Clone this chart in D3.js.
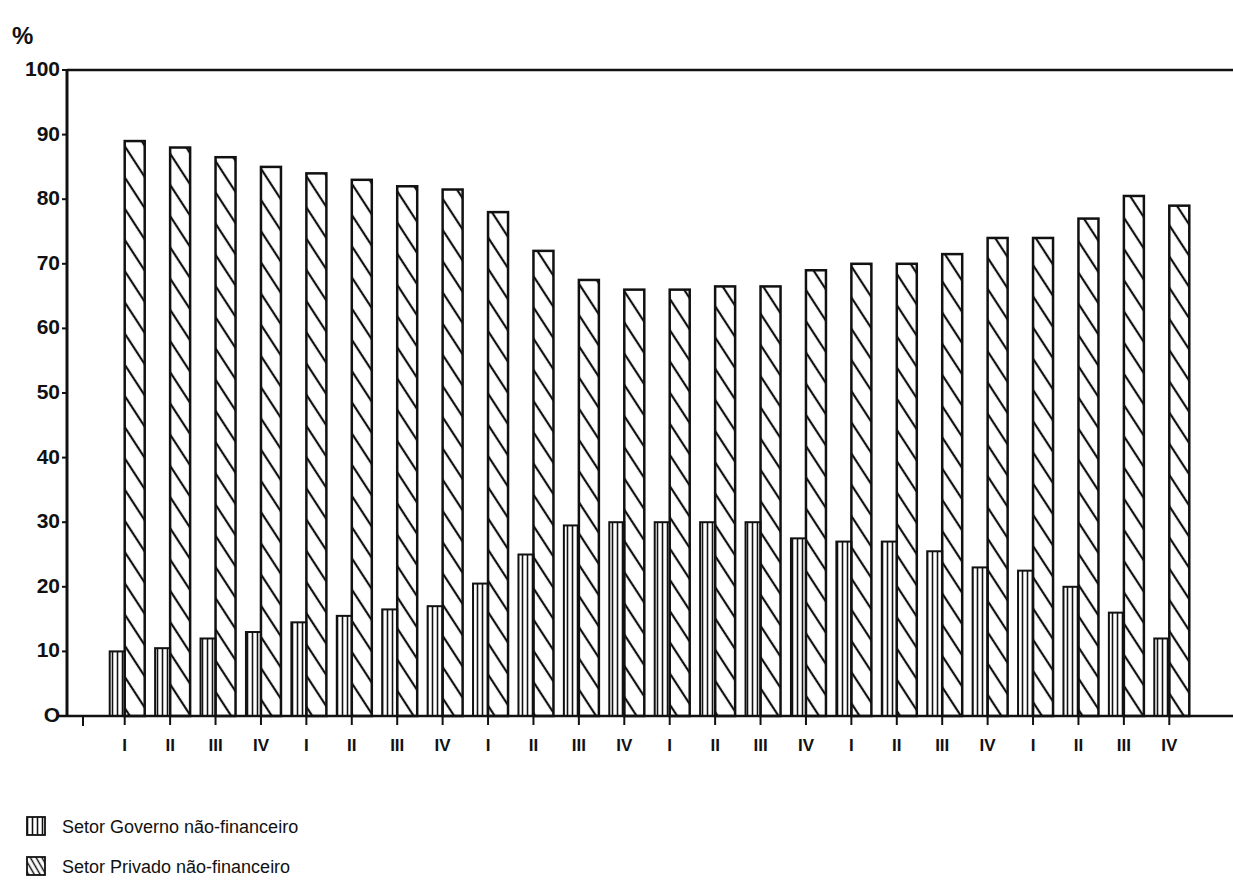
<!DOCTYPE html>
<html>
<head>
<meta charset="utf-8">
<script src="https://cdn.jsdelivr.net/npm/d3@7"></script>
<style>
  body { margin: 0; background: #fff; }
  text { font-family: "Liberation Sans", Arial, sans-serif; fill: #111; }
</style>
</head>
<body>
<div id="chart"></div>
<script>
// Quarters (four years, I-IV each)
const quarters = ["I","II","III","IV","I","II","III","IV","I","II","III","IV",
                  "I","II","III","IV","I","II","III","IV","I","II","III","IV"];
// Setor Governo não-financeiro (%)
const governo = [10, 10.5, 12, 13, 14.5, 15.5, 16.5, 17, 20.5, 25, 29.5, 30,
                 30, 30, 30, 27.5, 27, 27, 25.5, 23, 22.5, 20, 16, 12];
// Setor Privado não-financeiro (%)
const privado = [89, 88, 86.5, 85, 84, 83, 82, 81.5, 78, 72, 67.5, 66,
                 66, 66.5, 66.5, 69, 70, 70, 71.5, 74, 74, 77, 80.5, 79];
const yTicks = [0, 10, 20, 30, 40, 50, 60, 70, 80, 90, 100];

const svg = d3.select("#chart").append("svg")
    .attr("width", 1233)
    .attr("height", 887);

// Hatch patterns
const defs = svg.append("defs");
const pv = defs.append("pattern")
    .attr("id", "vert").attr("patternUnits", "userSpaceOnUse")
    .attr("width", 5).attr("height", 10);
pv.append("line").attr("x1", 2.5).attr("x2", 2.5).attr("y1", 0).attr("y2", 10)
    .attr("stroke", "#111").attr("stroke-width", 1.6);

const pd = defs.append("pattern")
    .attr("id", "diag").attr("patternUnits", "userSpaceOnUse")
    .attr("width", 17).attr("height", 10)
    .attr("patternTransform", "rotate(-33)");
pd.append("line").attr("x1", 8).attr("x2", 8).attr("y1", 0).attr("y2", 10)
    .attr("stroke", "#111").attr("stroke-width", 2.2);

const pd2 = defs.append("pattern")
    .attr("id", "diag2").attr("patternUnits", "userSpaceOnUse")
    .attr("width", 5).attr("height", 10)
    .attr("patternTransform", "rotate(-30)");
pd2.append("line").attr("x1", 2.5).attr("x2", 2.5).attr("y1", 0).attr("y2", 10)
    .attr("stroke", "#111").attr("stroke-width", 1.5);

const x = d3.scaleBand()
    .domain(d3.range(quarters.length))
    .range([102, 1192]);

const y = d3.scaleLinear()
    .domain([0, 100])
    .range([716, 70]);

// Frame: left axis, top line
svg.append("line").attr("x1", 67).attr("x2", 67).attr("y1", y(100)).attr("y2", y(0))
    .attr("stroke", "#111").attr("stroke-width", 3);
svg.append("line").attr("x1", 67).attr("x2", 1233).attr("y1", y(100)).attr("y2", y(100))
    .attr("stroke", "#111").attr("stroke-width", 2.5);

// Y tick labels and ticks
const yAxis = svg.append("g");
yTicks.forEach(t => {
    yAxis.append("line").attr("x1", 62).attr("x2", 67).attr("y1", y(t)).attr("y2", y(t))
        .attr("stroke", "#111").attr("stroke-width", 2);
    yAxis.append("text")
        .attr("x", 60).attr("y", y(t) + 6)
        .attr("text-anchor", "end")
        .attr("font-size", 21).attr("font-weight", "bold")
        .text(t === 0 ? "O" : t);
});
svg.append("text").attr("x", 12).attr("y", 44)
    .attr("font-size", 24).attr("font-weight", "bold").text("%");

// Bars
const gW = 15, pW = 20;
const bars = svg.append("g");
quarters.forEach((q, i) => {
    const cx = x(i) + x.bandwidth() / 2;
    bars.append("rect")
        .attr("x", cx - gW).attr("y", y(governo[i]))
        .attr("width", gW).attr("height", y(0) - y(governo[i]))
        .attr("fill", "url(#vert)").attr("stroke", "#111").attr("stroke-width", 2);
    bars.append("rect")
        .attr("x", cx).attr("y", y(privado[i]))
        .attr("width", pW).attr("height", y(0) - y(privado[i]))
        .attr("fill", "url(#diag)").attr("stroke", "#111").attr("stroke-width", 2.5);
});

// Baseline with ticks and quarter labels
svg.append("line").attr("x1", 58).attr("x2", 1233).attr("y1", y(0)).attr("y2", y(0))
    .attr("stroke", "#111").attr("stroke-width", 2.5);
svg.append("line").attr("x1", 83).attr("x2", 83).attr("y1", y(0)).attr("y2", y(0) + 10)
    .attr("stroke", "#111").attr("stroke-width", 2);
const xAxis = svg.append("g").attr("transform", `translate(0,${y(0)})`)
    .call(d3.axisBottom(x).tickSize(9).tickPadding(14).tickFormat(i => quarters[i]));
xAxis.select(".domain").remove();
xAxis.selectAll("line").attr("stroke", "#111").attr("stroke-width", 2);
xAxis.selectAll("text").attr("font-size", 17).attr("font-weight", "bold")
    .attr("font-family", "Liberation Sans, Arial, sans-serif").attr("fill", "#111");

// Legend
const legend = [
    { label: "Setor Governo não-financeiro", fill: "url(#vert)", y: 817 },
    { label: "Setor Privado não-financeiro", fill: "url(#diag2)", y: 857 }
];
legend.forEach(d => {
    svg.append("rect").attr("x", 27).attr("y", d.y).attr("width", 18).attr("height", 18)
        .attr("fill", d.fill).attr("stroke", "#111").attr("stroke-width", 1.8);
    svg.append("text").attr("x", 62).attr("y", d.y + 16)
        .attr("font-size", 18).text(d.label);
});
</script>
</body>
</html>
